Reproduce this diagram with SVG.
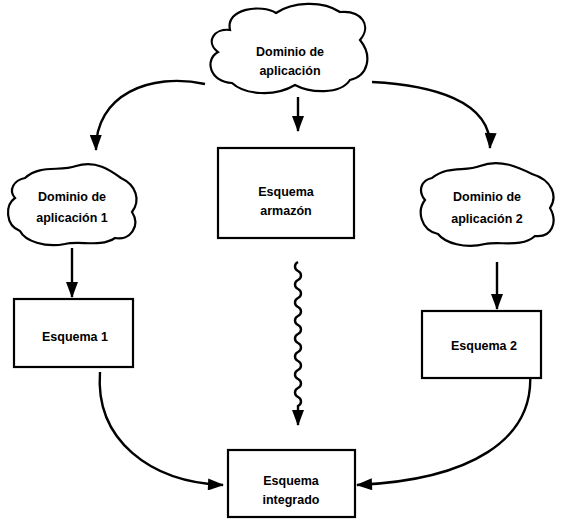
<svg xmlns="http://www.w3.org/2000/svg" width="585" height="519" viewBox="0 0 585 519">
<defs>
<style>
.shape{fill:#fff;stroke:#000;stroke-width:2.2}
.conn{fill:none;stroke:#000;stroke-width:2.4}
text{font-family:"Liberation Sans",Arial,sans-serif;font-size:12.5px;font-weight:bold;text-anchor:middle;fill:#000}
</style>
<marker id="ah" viewBox="0 0 16 12" refX="15" refY="6" markerWidth="17" markerHeight="12" markerUnits="userSpaceOnUse" orient="auto">
<path d="M0,0 L16,6 L0,12 Z" fill="#000"/>
</marker>
</defs>
<rect width="585" height="519" fill="#fff"/>
<g id="connectors">
<path class="conn" d="M205,84 C150,72 95,95 96,150" marker-end="url(#ah)"/>
<path class="conn" d="M372,82 C430,85 492,100 490,148" marker-end="url(#ah)"/>
<path class="conn" d="M298,97 L298,131" marker-end="url(#ah)"/>
<path class="conn" d="M72,248 L72,297" marker-end="url(#ah)"/>
<path class="conn" d="M497,262 L497,309" marker-end="url(#ah)"/>
<path class="conn" d="M298,262 c-4,2 -4,7 0,9 c4,2 4,7 0,9 c-4,2 -4,7 0,9 c4,2 4,7 0,9 c-4,2 -4,7 0,9 c4,2 4,7 0,9 c-4,2 -4,7 0,9 c4,2 4,7 0,9 c-4,2 -4,7 0,9 c4,2 4,7 0,9 c-4,2 -4,7 0,9 c4,2 4,7 0,9 c-4,2 -4,7 0,9 c4,2 4,7 0,9 c-4,2 -4,7 0,9 c4,2 4,7 0,9 L298,425" marker-end="url(#ah)"/>
<path class="conn" d="M100,372 C95,440 150,482 223,485" marker-end="url(#ah)"/>
<path class="conn" d="M530,372 C535,440 470,480 357,485" marker-end="url(#ah)"/>
</g>
<g id="n-top">
<path class="shape" d="M230,30 C225,8 262,4 276,13 C292,2 322,0 340,12 C362,10 372,26 360,40 C373,56 368,76 350,80 C340,95 310,93 295,85 C275,97 245,95 232,83 C210,82 204,60 218,52 C205,42 214,28 230,30 Z"/>
<text x="290" y="56">Dominio de</text>
<text x="290" y="75">aplicación</text>
</g>
<g id="n-dom1">
<path class="shape" d="M25,178 C40,164 60,172 76,166 C96,160 110,170 121,178 C136,185 141,200 132,212 C141,226 130,241 115,238 C100,248 80,240 65,244 C45,248 25,241 20,231 C5,225 5,205 15,198 C8,190 14,180 25,178 Z"/>
<text x="72" y="201">Dominio de</text>
<text x="72" y="222">aplicación 1</text>
</g>
<g id="n-armazon">
<rect class="shape" x="218" y="148" width="136" height="90"/>
<text x="286" y="196">Esquema</text>
<text x="286" y="215">armazón</text>
</g>
<g id="n-dom2">
<path class="shape" d="M432,178 C448,165 465,172 480,166 C500,158 520,168 532,174 C552,180 558,196 550,208 C558,222 552,238 535,236 C522,248 500,241 485,244 C465,249 445,243 438,234 C420,230 417,210 425,200 C417,190 422,180 432,178 Z"/>
<text x="487" y="201">Dominio de</text>
<text x="487" y="223">aplicación 2</text>
</g>
<g id="n-esq1">
<rect class="shape" x="14" y="299" width="119" height="68"/>
<text x="75" y="341">Esquema 1</text>
</g>
<g id="n-esq2">
<rect class="shape" x="422" y="311" width="119" height="67"/>
<text x="484" y="350">Esquema 2</text>
</g>
<g id="n-integrado">
<rect class="shape" x="228" y="450" width="127" height="67"/>
<text x="291" y="485">Esquema</text>
<text x="291" y="504">integrado</text>
</g>
</svg>
